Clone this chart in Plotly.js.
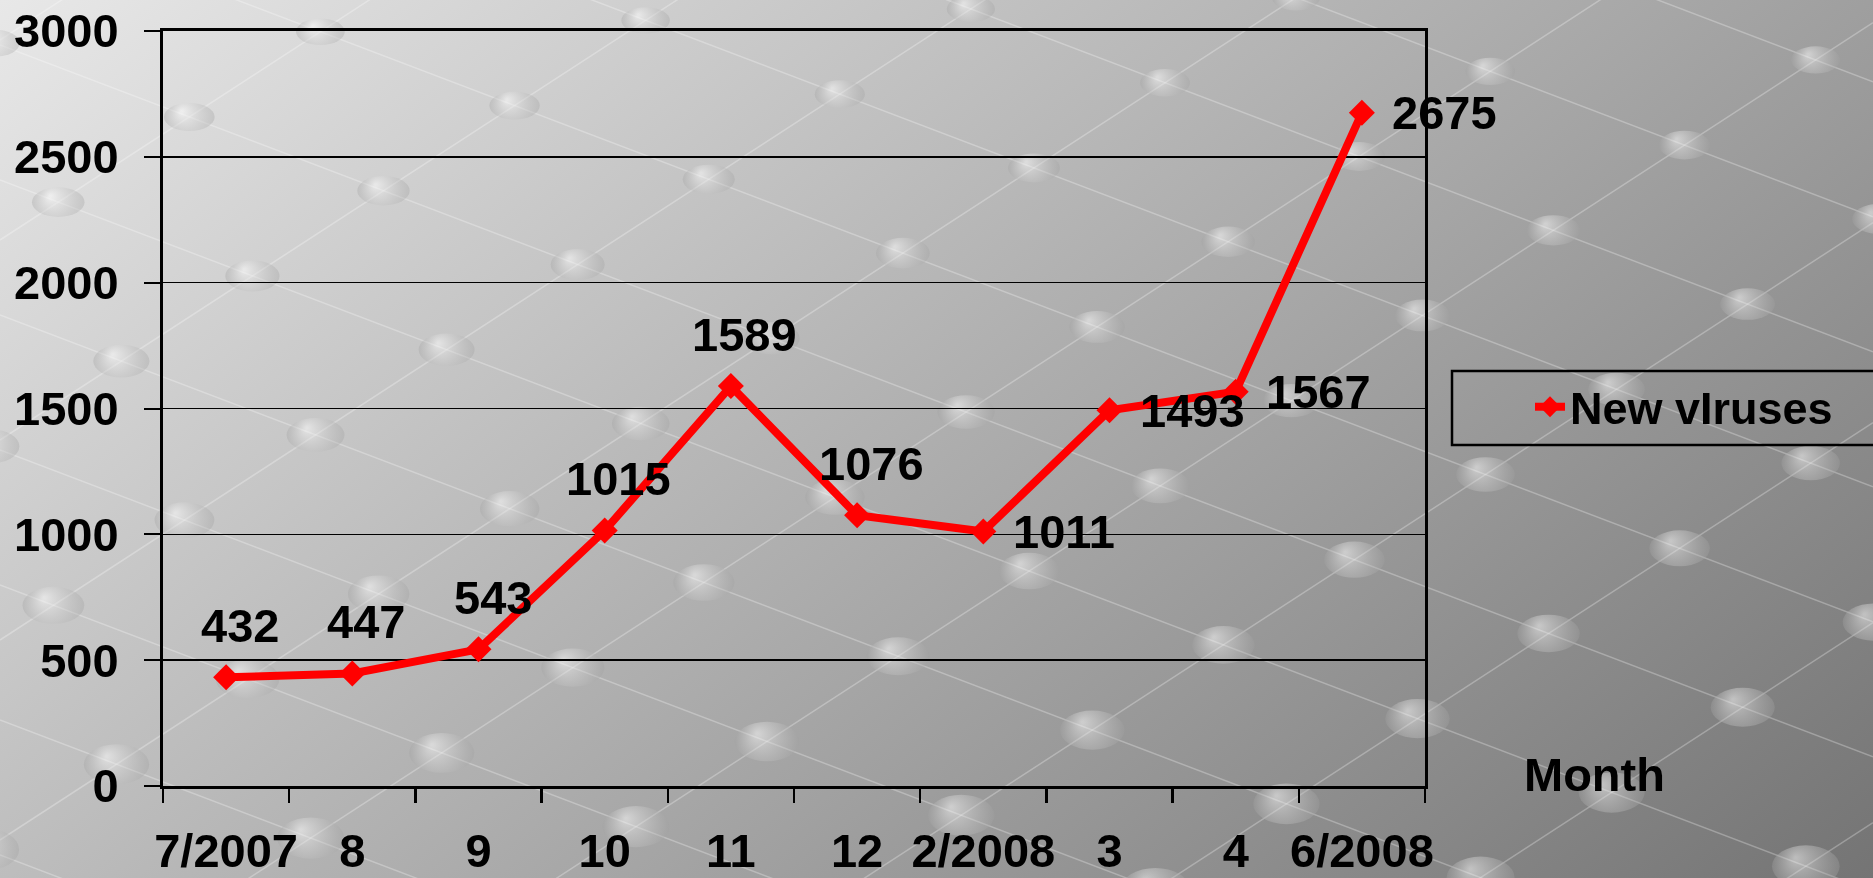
<!DOCTYPE html>
<html><head><meta charset="utf-8">
<script src="https://cdn.plot.ly/plotly-3.0.1.min.js"></script>
<style>
html,body{margin:0;padding:0;width:1873px;height:878px;overflow:hidden;background:#b0b0b0;}
#bg{position:absolute;left:0;top:0;}
#chart{position:absolute;left:0;top:0;width:1873px;height:878px;}
</style></head><body>
<canvas id="bg" width="1873" height="878"></canvas>
<div id="chart"></div>
<script>
const months = ['7/2007','8','9','10','11','12','2/2008','3','4','6/2008'];
const newViruses = [432,447,543,1015,1589,1076,1011,1493,1567,2675];
const yTicks = [0,500,1000,1500,2000,2500,3000];
const seriesName = 'New vIruses';
const xAxisLabel = 'Month';

// decorative background (gradient + faint lattice with dots)
(function(){
  const c = document.getElementById('bg'); const ctx = c.getContext('2d');
  const W = 1873, H = 878;
  const g = ctx.createLinearGradient(0,0,1160,1450);
  g.addColorStop(0,'#e8e8e8'); g.addColorStop(1,'#747474');
  ctx.fillStyle = g; ctx.fillRect(0,0,W,H);
  const sA = 0.38, sB = -0.65, stepA = 135, stepB = 200;
  ctx.strokeStyle = 'rgba(255,255,255,0.28)'; ctx.lineWidth = 1.5;
  for (let b = -900; b < H + 100; b += stepA) {
    ctx.beginPath(); ctx.moveTo(0,b); ctx.lineTo(W, b + sA*W); ctx.stroke();
  }
  for (let cc = 40; cc < H + 1400; cc += stepB) {
    ctx.beginPath(); ctx.moveTo(0,cc); ctx.lineTo(W, cc + sB*W); ctx.stroke();
  }
  for (let b = -900; b < H + 100; b += stepA) {
    for (let cc = 40; cc < H + 1400; cc += stepB) {
      const x = (cc - b)/(sA - sB), y = sA*x + b;
      if (x < -40 || x > W+40 || y < -30 || y > H+30) continue;
      const rx = 24 + 10*(y/H), ry = 13 + 8*(y/H);
      const rg = ctx.createRadialGradient(x - rx*0.3, y - ry*0.4, 1, x, y, rx);
      rg.addColorStop(0,'rgba(255,255,255,0.50)');
      rg.addColorStop(1,'rgba(160,160,160,0.35)');
      ctx.fillStyle = rg;
      ctx.beginPath(); ctx.ellipse(x, y, rx, ry, 0, 0, Math.PI*2); ctx.fill();
    }
  }
})();

const FONT = '"Liberation Sans", Arial, sans-serif';
const labelFont = {family: FONT, size: 47, color: '#000', weight: 'bold'};

const annotations = newViruses.map((v, i) => {
  const right = i >= 6;
  return {
    x: i, y: v, xref: 'x', yref: 'y', text: String(v), showarrow: false,
    font: labelFont, xanchor: right ? 'left' : 'center', yanchor: 'middle',
    xshift: right ? 28 : 14, yshift: right ? 0 : 52
  };
});
annotations.push({
  xref: 'paper', yref: 'paper', x: 1.1347, y: 0.0146, xanchor: 'center', yanchor: 'middle',
  text: xAxisLabel, showarrow: false, font: labelFont
});

const trace = {
  type: 'scatter', mode: 'lines+markers', x: months, y: newViruses, name: seriesName,
  line: {color: '#ff0000', width: 8},
  marker: {symbol: 'diamond', size: 20, color: '#ff0000'},
  cliponaxis: false
};

const layout = {
  width: 1873, height: 878,
  margin: {l: 163, r: 448, t: 31, b: 92, pad: 0},
  paper_bgcolor: 'rgba(0,0,0,0)', plot_bgcolor: 'rgba(0,0,0,0)',
  font: {family: FONT, size: 47, color: '#000'},
  showlegend: true,
  xaxis: {
    type: 'category', range: [-0.5, 9.5], tickson: 'boundaries', ticks: 'outside',
    ticklen: 14, tickwidth: 2.5, tickcolor: '#000', showline: true, linecolor: '#000',
    linewidth: 3, mirror: true, showgrid: false, zeroline: false, tickangle: 0,
    tickfont: labelFont, ticklabelstandoff: 22
  },
  yaxis: {
    range: [0, 3000], tickvals: yTicks, ticktext: yTicks.map(String), ticks: 'outside',
    ticklen: 16, tickwidth: 2, tickcolor: '#000', showline: true, linecolor: '#000',
    linewidth: 3, mirror: true, showgrid: true, gridcolor: '#000', gridwidth: 1.5,
    zeroline: false, tickfont: labelFont, ticklabelstandoff: 16
  },
  legend: {
    x: 1.0832, xanchor: 'left', y: 0.5497, yanchor: 'top',
    bgcolor: 'rgba(0,0,0,0)', borderwidth: 0,
    font: {family: FONT, size: 45, color: '#000', weight: 'bold'}
  },
  shapes: [{
    type: 'rect', xref: 'paper', yref: 'paper', x0: 1.0214, x1: 1.62, y0: 0.4517, y1: 0.5497,
    line: {color: '#000', width: 2.5}, fillcolor: 'rgba(0,0,0,0)', layer: 'above'
  }],
  annotations: annotations
};

Plotly.newPlot('chart', [trace], layout, {staticPlot: true, displayModeBar: false});
</script>
</body></html>
